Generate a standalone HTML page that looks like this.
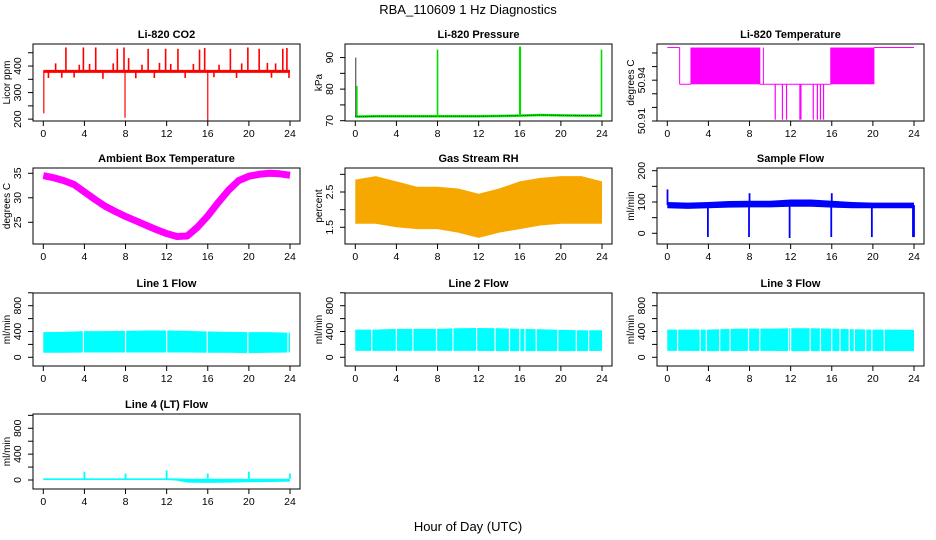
<!DOCTYPE html>
<html><head><meta charset="utf-8"><style>
html,body{margin:0;padding:0;background:#fff;}
svg{display:block;font-family:"Liberation Sans",Arial,sans-serif;}
</style></head><body>
<svg id="fig" width="936" height="540" viewBox="0 0 936 540" xmlns="http://www.w3.org/2000/svg">
<text x="468" y="14" text-anchor="middle" font-size="13">RBA_110609  1 Hz Diagnostics</text>
<text x="468" y="531" text-anchor="middle" font-size="13">Hour of Day (UTC)</text>
</svg>
<script>
// ---- data ----
const xTicks = [0,4,8,12,16,20,24];
// CO2
const co2Base = 380;
const co2SpikeHours = [2.2,3.9,5.1,7.2,7.85,10.2,11.9,13.1,15.2,15.7,18.2,19.9,21.0,23.3,23.7,1.2,3.5,4.5,6.8,8.3,9.6,11.3,12.4,14.6,17.1,19.3,21.8,22.6,0.5,1.8,3.0,5.8,9.0,10.8,13.8,16.6,18.8,22.2,23.9];
const co2SpikeVals  = [470,470,470,465,470,465,465,465,462,468,465,470,465,465,468,410,405,408,410,430,405,412,408,408,405,410,412,410,355,356,357,352,354,355,355,358,355,356,355];
const co2DownHours = [0.05,7.95,16.0];
const co2DownVals  = [222,205,195];
// Pressure
const presHours = [0,2,4,6,8,10,12,14,16,18,20,22,24];
const presBase  = [71.3,71.4,71.4,71.4,71.4,71.4,71.4,71.5,71.6,71.8,71.7,71.6,71.6];
const presSpikeHours = [0.05,0.15,8.0,16.0,16.05,23.95];
const presSpikeVals  = [90,81,92.5,93.5,93.5,92.5];
// Li-820 temperature
const tempSegStart = [0,1.2,2.3,9.0,9.35,15.9,20.1];
const tempSegEnd   = [1.2,2.3,9.0,9.35,15.9,20.1,24];
const tempSegMode  = ['hi','lo','both','lo','lo','both','hi'];
const tempHi = 50.964, tempLo = 50.937;
const tempDipHours = [10.5,11.2,11.6,12.9,13.0,14.2,14.6,14.9,15.2];
const tempDipVal = 50.911;
// Ambient
const ambHours = [0,1,2,3,4,5,6,7,8,9,10,11,12,13,14,15,16,17,18,19,20,21,22,23,24];
const ambVals  = [34.5,34.1,33.5,32.7,31.2,29.7,28.3,27.2,26.2,25.3,24.4,23.5,22.7,22.1,22.2,24.0,26.3,29.0,31.5,33.5,34.4,34.8,35.0,34.9,34.6];
// RH
const rhHours = [0,2,4,6,8,10,12,14,16,18,20,22,24];
const rhLow   = [1.6,1.6,1.5,1.45,1.45,1.35,1.2,1.35,1.45,1.55,1.6,1.6,1.6];
const rhHigh  = [2.85,2.95,2.8,2.65,2.65,2.6,2.45,2.6,2.8,2.9,2.95,2.95,2.8];
// Sample flow
const sfHours = [0,2,4,6,8,10,12,14,16,18,20,22,24];
const sfLow   = [80,78,80,82,83,83,85,85,82,80,80,80,80];
const sfHigh  = [100,98,100,103,104,104,108,108,104,100,98,98,98];
const sfSpikeHours = [0.02,3.95,7.95,8.0,11.9,15.95,16.0,19.9,23.9,24.0];
const sfSpikeVals  = [140,-12,-12,128,-15,-12,128,-12,-12,-12];
// Line flows
const l1Hours = [0,2,4,6,8,10,12,14,16,18,20,22,24];
const l1Low   = [70,70,75,75,75,75,75,75,70,70,65,70,75];
const l1High  = [390,395,405,405,410,415,415,410,400,395,390,390,380];
const l1Gaps  = [3.9,8.0,12.0,15.95,19.9,23.8];
const l2Low   = [100,100,100,100,100,100,100,95,95,95,95,95,100];
const l2High  = [430,430,440,440,440,450,455,450,440,435,425,420,420];
const l2Gaps  = [1.6,4.0,5.6,7.9,9.5,11.8,13.6,15.0,16.0,16.5,17.6,19.7,21.5,22.7];
const l3Low   = [100,100,95,95,100,100,95,95,95,95,95,95,95];
const l3High  = [430,430,430,440,445,445,450,450,445,435,430,430,425];
const l3Gaps  = [1.0,3.2,3.8,5.1,6.1,7.9,9.0,11.8,12.0,13.9,14.9,16.0,16.8,17.7,18.2,19.3,19.9,21.1];
const l4Hours = [0,2,4,6,8,10,12,13,14,16,18,20,22,24];
const l4Low   = [0,0,0,0,0,0,0,-10,-40,-45,-40,-35,-30,-25];
const l4High  = [25,25,25,25,25,25,25,25,20,20,20,20,20,20];
const l4SpikeHours = [4.0,8.0,12.0,16.0,20.0,24.0];
const l4SpikeVals  = [130,100,150,100,130,100];

// ---- layout ----
const NS = 'http://www.w3.org/2000/svg';
const svg = document.getElementById('fig');
const rowTop = [44,168,293,414], rowBot = [121,244,366,489];
function mk(tag, attrs, parent){ const e=document.createElementNS(NS,tag); for(const k in attrs) e.setAttribute(k,attrs[k]); (parent||svg).appendChild(e); return e; }

function panel(col,row,title,ylab,ymin,ymax,ticks,labels,name){
  const left=33+312*col, right=300+312*col, top=rowTop[row], bot=rowBot[row];
  const x0=43.3+312*col, sx=(290-43.3)/24;
  const g=mk('g',{});
  
  
  const X=h=>x0+h*sx;
  const Y=v=>bot-(v-ymin)/(ymax-ymin)*(bot-top);
  const t=mk('text',{x:(left+right)/2,y:top-6,'text-anchor':'middle','font-size':'11','font-weight':'bold'},g);
  t.textContent=title;
  
  
  const yl=mk('text',{x:0,y:0,'text-anchor':'middle','font-size':'10',transform:`translate(${left-23},${(top+bot)/2}) rotate(-90)`},g);
  yl.textContent=ylab;
  
  
  mk('line',{x1:left,x2:left,y1:Y(ticks[0]),y2:Y(ticks[ticks.length-1]),stroke:'#000','stroke-width':1},g);
  ticks.forEach(v=>{ mk('line',{x1:left-5,x2:left,y1:Y(v),y2:Y(v),stroke:'#000'},g); });
  labels.forEach(v=>{
    const tl=mk('text',{x:0,y:0,'text-anchor':'middle','font-size':'10.5',transform:`translate(${left-12},${Y(v)}) rotate(-90)`},g);
    tl.textContent=String(v);
    
    
  });
  mk('line',{x1:X(0),x2:X(24),y1:bot,y2:bot,stroke:'#000'},g);
  xTicks.forEach(h=>{
    mk('line',{x1:X(h),x2:X(h),y1:bot,y2:bot+5,stroke:'#000'},g);
    const tl=mk('text',{x:X(h),y:bot+16,'text-anchor':'middle','font-size':'10.5'},g);
    tl.textContent=String(h);
    
    
  });
  const plot=mk('g',{},g);
  
  
  const box=mk('rect',{x:left,y:top,width:right-left,height:bot-top,fill:'none',stroke:'#000','stroke-width':1},g);
  
  
  return {X,Y,plot};
}
function band(p,hours,lo,hi,fill,name){
  let pts=hours.map((h,i)=>p.X(h)+','+p.Y(hi[i]));
  for(let i=hours.length-1;i>=0;i--) pts.push(p.X(hours[i])+','+p.Y(lo[i]));
  const e=mk('polygon',{points:pts.join(' '),fill:fill},p.plot);
  
  
}
function vbar(p,h,v1,v2,col,w,name){
  const e=mk('line',{x1:p.X(h),x2:p.X(h),y1:p.Y(v1),y2:p.Y(v2),stroke:col,'stroke-width':w||1.5},p.plot);
  
  
}

// CO2
let p=panel(0,0,'Li-820 CO2','Licor ppm',193,483,[200,250,300,350,400,450],[200,300,400],'co2');
let e=mk('line',{x1:p.X(0),x2:p.X(24),y1:p.Y(co2Base),y2:p.Y(co2Base),stroke:'#ff0000','stroke-width':3},p.plot);


co2SpikeHours.forEach((h,i)=>vbar(p,h,co2Base,co2SpikeVals[i],'#ff0000',1.6,'co2-spike'));
co2DownHours.forEach((h,i)=>vbar(p,h,co2Base,co2DownVals[i],'#ff0000',1.2,'co2-drop'));

// Pressure
p=panel(1,0,'Li-820 Pressure','kPa',69.9,94.3,[70,75,80,85,90],[70,80,90],'pressure');
e=mk('polyline',{points:presHours.map((h,i)=>p.X(h)+','+p.Y(presBase[i])).join(' '),fill:'none',stroke:'#00ee00','stroke-width':2.5},p.plot);


e=mk('polyline',{points:presHours.map((h,i)=>p.X(h)+','+p.Y(presBase[i])).join(' '),fill:'none',stroke:'#000','stroke-width':0.8,'stroke-dasharray':'1,1'},p.plot);


presSpikeHours.forEach((h,i)=>vbar(p,h,71.3,presSpikeVals[i],i===0?'#000':'#00dd00',i===0?0.8:1.6,'pressure-spike'));

// Li-820 Temperature
p=panel(2,0,'Li-820 Temperature','degrees C',50.91,50.9666,[50.91,50.92,50.93,50.94,50.95,50.96],[50.91,50.94],'li820-temp');
tempSegStart.forEach((s,i)=>{
  const m=tempSegMode[i], en=tempSegEnd[i];
  if(m==='both'){
    const r=mk('rect',{x:p.X(s),y:p.Y(tempHi),width:p.X(en)-p.X(s),height:p.Y(tempLo)-p.Y(tempHi),fill:'#ff00ff'},p.plot);
    
    
  } else {
    const v=m==='hi'?tempHi:tempLo;
    const l=mk('line',{x1:p.X(s),x2:p.X(en),y1:p.Y(v),y2:p.Y(v),stroke:'#ff00ff','stroke-width':1},p.plot);
    
    
  }
  if(i>0) vbar(p,s,tempHi,tempLo,'#ff00ff',1,'temp-step');
});
tempDipHours.forEach(h=>vbar(p,h,tempLo,tempDipVal,'#ff00ff',1.2,'temp-dip'));

// Ambient
p=panel(0,1,'Ambient Box Temperature','degrees C',20.57,36.08,[25,30,35],[25,30,35],'ambient');
e=mk('polyline',{points:ambHours.map((h,i)=>p.X(h)+','+p.Y(ambVals[i])).join(' '),fill:'none',stroke:'#ff00ff','stroke-width':7,'stroke-linejoin':'round'},p.plot);



// RH
p=panel(1,1,'Gas Stream RH','percent',1.027,3.18,[1.5,2.0,2.5,3.0],[1.5,2.5],'rh');
band(p,rhHours,rhLow,rhHigh,'#f7a800','rh-band');

// Sample flow
p=panel(2,1,'Sample Flow','ml/min',-34.2,208.6,[0,50,100,150,200],[0,100,200],'sample-flow');
band(p,sfHours,sfLow,sfHigh,'#0000ff','sample-flow-band');
sfSpikeHours.forEach((h,i)=>vbar(p,h,90,sfSpikeVals[i],'#0000ff',1.8,'sample-flow-spike'));

// Line flows
function linePanel(col,row,title,name,hours,lo,hi,gaps,ymin,ymax){
  const q=panel(col,row,title,'ml/min',ymin,ymax,[0,200,400,600,800,1000],[0,400,800],name);
  band(q,hours,lo,hi,'#00ffff',name+'-band');
  gaps.forEach(h=>vbar(q,h,Math.min(...lo)-10,Math.max(...hi)+10,'#ffffff',1.2,name+'-gap'));
  return q;
}
linePanel(0,2,'Line 1 Flow','line1-flow',l1Hours,l1Low,l1High,l1Gaps,-135,997);
linePanel(1,2,'Line 2 Flow','line2-flow',l1Hours,l2Low,l2High,l2Gaps,-135,997);
linePanel(2,2,'Line 3 Flow','line3-flow',l1Hours,l3Low,l3High,l3Gaps,-135,997);
p=panel(0,3,'Line 4 (LT) Flow','ml/min',-139,1021,[0,200,400,600,800,1000],[0,400,800],'line4-flow');
band(p,l4Hours,l4Low,l4High,'#00ffff','line4-flow-band');
l4SpikeHours.forEach((h,i)=>vbar(p,h,20,l4SpikeVals[i],'#00ffff',1.8,'line4-flow-spike'));
</script>
</body></html>
